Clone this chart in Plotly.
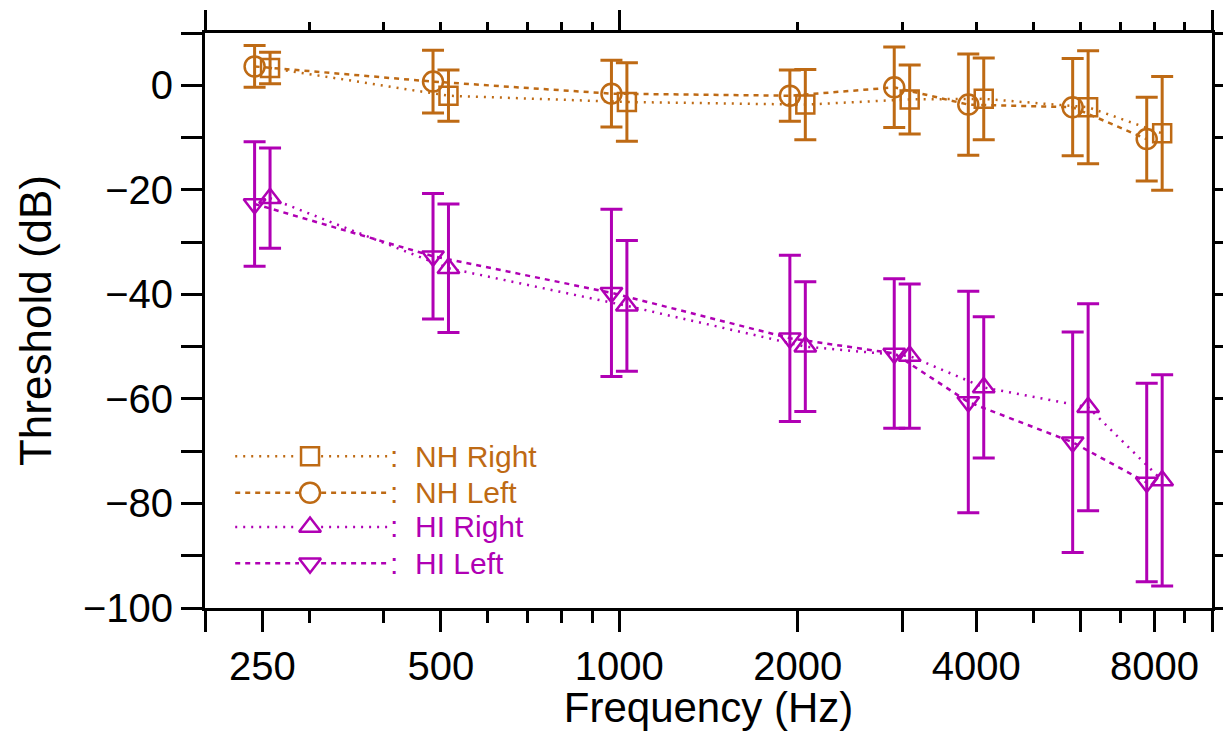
import plotly.graph_objects as go

# ---------------- data ----------------
freqs = [250, 500, 1000, 2000, 3000, 4000, 6000, 8000]

nh_right = [3.3, -2.0, -3.2, -3.7, -2.7, -2.6, -4.2, -9.2]
nh_right_err = [3.0, 4.9, 7.5, 6.7, 6.6, 7.8, 10.8, 10.9]

nh_left = [3.6, 0.7, -1.6, -2.0, -0.4, -3.7, -4.2, -10.3]
nh_left_err = [4.0, 6.0, 6.4, 4.9, 7.7, 9.7, 9.3, 8.0]

hi_right = [-21.6, -35.0, -42.2, -50.0, -51.8, -57.8, -61.6, -75.6]
hi_right_err = [9.6, 12.3, 12.5, 12.4, 13.8, 13.5, 19.8, 20.2]

hi_left = [-22.7, -32.7, -39.7, -48.4, -51.3, -60.6, -68.3, -76.0]
hi_left_err = [11.9, 12.0, 16.0, 15.9, 14.3, 21.2, 21.1, 19.0]

series_names = ["NH Right", "NH Left", "HI Right", "HI Left"]

x_tick_labels = ["250", "500", "1000", "2000", "4000", "8000"]
y_tick_labels = ["\u2212100", "\u221280", "\u221260", "\u221240", "\u221220", "0"]

# ---------------- style ----------------
ORANGE = "#BE6A14"
MAGENTA = "#B000B4"
FONT = "Liberation Sans, Arial, sans-serif"
LEFT_SHIFT, RIGHT_SHIFT = 0.97, 1.03  # small horizontal offset between ears

styles = {
    "NH Right": dict(color=ORANGE, symbol="square-open", size=18, dash="2px,6px",
                     shift=RIGHT_SHIFT, xaxis="x"),
    "NH Left": dict(color=ORANGE, symbol="circle-open", size=20, dash="5px,5px",
                    shift=LEFT_SHIFT, xaxis="x"),
    "HI Right": dict(color=MAGENTA, symbol="triangle-up-open", size=19, dash="2px,6px",
                     shift=RIGHT_SHIFT, xaxis="x2"),
    "HI Left": dict(color=MAGENTA, symbol="triangle-down-open", size=19, dash="5px,5px",
                    shift=LEFT_SHIFT, xaxis="x2"),
}
data = {
    "NH Right": (nh_right, nh_right_err),
    "NH Left": (nh_left, nh_left_err),
    "HI Right": (hi_right, hi_right_err),
    "HI Left": (hi_left, hi_left_err),
}

fig = go.Figure()

for name in series_names:
    st = styles[name]
    vals, errs = data[name]
    fig.add_trace(go.Scatter(
        x=[f * st["shift"] for f in freqs], y=vals, xaxis=st["xaxis"], yaxis="y",
        mode="lines+markers", name=name, showlegend=False,
        line=dict(color=st["color"], width=2.5, dash=st["dash"]),
        marker=dict(symbol=st["symbol"], size=st["size"], color=st["color"],
                    line=dict(color=st["color"], width=2.5)),
        error_y=dict(type="data", array=errs, visible=True, color=st["color"],
                     thickness=3, width=11),
        cliponaxis=False,
    ))

# ---------------- custom legend (drawn on an auxiliary 0..1 axis) ----------------
leg_rows = [0.264, 0.2005, 0.141, 0.078]
lx0, lxm, lx1, gap = 0.030, 0.1043, 0.181, 0.011
for name, ry in zip(series_names, leg_rows):
    st = styles[name]
    fig.add_trace(go.Scatter(
        x=[lx0, lxm - gap, None, lxm + gap, lx1], y=[ry, ry, None, ry, ry],
        mode="lines", xaxis="x3", yaxis="y3", showlegend=False, hoverinfo="skip",
        line=dict(color=st["color"], width=2.5, dash=st["dash"]),
    ))
    fig.add_trace(go.Scatter(
        x=[lxm], y=[ry], mode="markers", xaxis="x3", yaxis="y3",
        showlegend=False, hoverinfo="skip",
        marker=dict(symbol=st["symbol"], size=st["size"], color=st["color"],
                    line=dict(color=st["color"], width=2.5)),
    ))
    fig.add_annotation(
        x=lx1 + 0.001, y=ry, xref="paper", yref="paper", xanchor="left", yanchor="middle",
        text=":\u00a0\u00a0" + name, showarrow=False,
        font=dict(family=FONT, size=30, color=st["color"]),
    )

# ---------------- axes ----------------
x_major = [200, 250, 500, 1000, 2000, 3000, 4000, 6000, 8000, 10000]
x_major_text = ["", "250", "500", "1000", "2000", "", "4000", "", "8000", ""]
x_minor = [300, 400, 600, 700, 800, 900, 5000, 7000, 9000]

top_major = [200, 1000, 10000]
top_minor = [300, 400, 500, 600, 700, 800, 900, 2000, 3000, 4000, 5000, 6000, 7000, 8000, 9000]

y_ticks = list(range(-100, 11, 10))
y_text = [{-100: y_tick_labels[0], -80: y_tick_labels[1], -60: y_tick_labels[2],
           -40: y_tick_labels[3], -20: y_tick_labels[4], 0: y_tick_labels[5]}.get(v, "")
          for v in y_ticks]

axis_common = dict(showgrid=False, zeroline=False, showline=True, linecolor="black",
                   linewidth=3, tickcolor="black", tickwidth=3, automargin=False)

fig.update_layout(
    width=1223, height=731,
    margin=dict(l=205, r=11, t=33, b=123, autoexpand=False),
    paper_bgcolor="white", plot_bgcolor="white",
    font=dict(family=FONT, color="black"),
    xaxis=dict(
        type="log", range=[2.30103, 4.0], **axis_common,
        tickmode="array", tickvals=x_major, ticktext=x_major_text,
        ticks="outside", ticklen=21, mirror=False,
        tickfont=dict(size=40, family=FONT),
        minor=dict(tickmode="array", tickvals=x_minor, ticks="outside", ticklen=12,
                   tickwidth=3, tickcolor="black", showgrid=False),
        title=dict(text="Frequency (Hz)", font=dict(size=42, family=FONT), standoff=10),
    ),
    xaxis2=dict(
        type="log", range=[2.30103, 4.0], overlaying="x", side="top", anchor="y",
        **axis_common,
        tickmode="array", tickvals=top_major, ticktext=["", "", ""],
        ticks="outside", ticklen=20, showticklabels=False,
        minor=dict(tickmode="array", tickvals=top_minor, ticks="outside", ticklen=8,
                   tickwidth=3, tickcolor="black", showgrid=False),
    ),
    yaxis=dict(
        range=[-100, 10], **axis_common,
        tickmode="array", tickvals=y_ticks, ticktext=y_text,
        ticks="outside", ticklen=21, mirror="allticks",
        tickfont=dict(size=40, family=FONT),
        title=dict(text="Threshold (dB)", font=dict(size=44, family=FONT), standoff=18),
    ),
    xaxis3=dict(range=[0, 1], overlaying="x", visible=False, anchor="y3"),
    yaxis3=dict(range=[0, 1], overlaying="y", visible=False, anchor="x3"),
)

fig.write_html("out.html")
